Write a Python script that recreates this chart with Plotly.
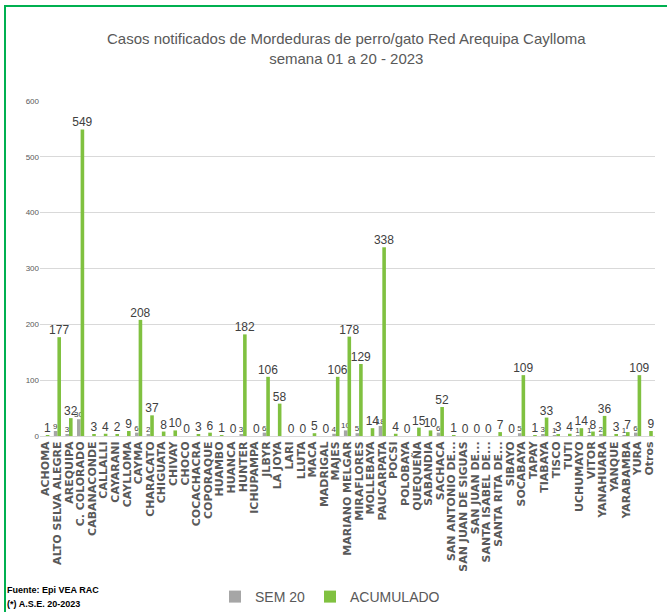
import plotly.graph_objects as go

categories = ["ACHOMA", "ALTO SELVA ALEGRE", "AREQUIPA", "C. COLORADO", "CABANACONDE",
              "CALLALLI", "CAYARANI", "CAYLLOMA", "CAYMA", "CHARACATO", "CHIGUATA",
              "CHIVAY", "CHOCO", "COCACHACRA", "COPORAQUE", "HUAMBO", "HUANCA", "HUNTER",
              "ICHUPAMPA", "JLBYR", "LA JOYA", "LARI", "LLUTA", "MACA", "MADRIGAL", "MAJES",
              "MARIANO MELGAR", "MIRAFLORES", "MOLLEBAYA", "PAUCARPATA", "POCSI", "POLOBAYA",
              "QUEQUEÑA", "SABANDIA", "SACHACA", "SAN ANTONIO DE...", "SAN JUAN DE SIGUAS",
              "SAN JUAN DE...", "SANTA ISABEL DE...", "SANTA RITA DE...", "SIBAYO", "SOCABAYA",
              "TAPAY", "TIABAYA", "TISCO", "TUTI", "UCHUMAYO", "VITOR", "YANAHUARA", "YANQUE",
              "YARABAMBA", "YURA", "Otros"]

sem20 = [None, 9, 3, 30, None, None, None, None, 6, 2, None, None, None, None, None, None,
         None, 3, None, 6, None, None, None, None, None, 4, 10, 5, None, 18, None, None,
         None, None, 6, None, None, None, None, None, None, 5, None, 3, 1, None, 1, 1, 2,
         None, 1, 6, None]

acumulado = [1, 177, 32, 549, 3, 4, 2, 9, 208, 37, 8, 10, 0, 3, 6, 1, 0, 182, 0, 106, 58,
             0, 0, 5, 0, 106, 178, 129, 14, 338, 4, 0, 15, 10, 52, 1, 0, 0, 0, 7, 0, 109, 1,
             33, 3, 4, 14, 8, 36, 3, 7, 109, 9]

title_text = "Casos notificados de Mordeduras de perro/gato Red Arequipa Caylloma<br>semana 01 a 20 - 2023"
y_ticks = [0, 100, 200, 300, 400, 500, 600]

NARROW = "Liberation Sans, Arial, sans-serif"

fig = go.Figure()
fig.add_trace(go.Bar(
    name="SEM 20", x=categories, y=sem20,
    text=["" if v is None else str(v) for v in sem20],
    textposition="outside", constraintext="none", cliponaxis=False,
    textfont=dict(size=8, color="#404040", family=NARROW),
    marker=dict(color="#a6a6a6", line=dict(width=0)),
))
fig.add_trace(go.Bar(
    name="ACUMULADO", x=categories, y=acumulado,
    text=[str(v) for v in acumulado],
    textposition="outside", constraintext="none", cliponaxis=False,
    textfont=dict(size=12, color="#404040", family=NARROW),
    marker=dict(color="#80c140", line=dict(width=0)),
))

W, H = 667, 612
L, R, T, B = 40, 12, 101, 176
pw = W - L - R
ph = H - T - B

def px_x(x):
    return (x - L) / pw

def px_y(y):
    return (H - B - y) / ph

fig.update_layout(
    width=W, height=H,
    margin=dict(l=L, r=R, t=T, b=B, autoexpand=False),
    paper_bgcolor="white", plot_bgcolor="white",
    barmode="group", bargap=0.38, bargroupgap=0,
    showlegend=True,
    legend=dict(orientation="h", x=px_x(330), xanchor="center", y=px_y(597), yanchor="middle",
                font=dict(size=14, color="#595959", family=NARROW),
                itemwidth=30, traceorder="normal"),
    xaxis=dict(tickangle=-90, tickmode="linear", dtick=1,
               tickfont=dict(size=11, color="#595959", family="DejaVu Sans", weight="bold"),
               showline=True, linecolor="#d9d9d9", linewidth=1, ticks="", showgrid=False,
               automargin=False),
    yaxis=dict(range=[0, 600], tickvals=y_ticks, showgrid=True, gridcolor="#d9d9d9",
               gridwidth=1, zeroline=False, showline=False,
               tickfont=dict(size=8, color="#595959", family=NARROW), ticklen=0,
               automargin=False),
    font=dict(family=NARROW),
    shapes=[dict(type="rect", xref="paper", yref="paper",
                 x0=px_x(5), x1=px_x(675), y0=px_y(625), y1=px_y(6),
                 line=dict(color="#00b050", width=2), fillcolor="rgba(0,0,0,0)", layer="below")],
    annotations=[
        dict(text=title_text, xref="paper", yref="paper", x=px_x(346), y=px_y(49),
             xanchor="center", yanchor="middle", showarrow=False, align="center",
             font=dict(size=15, color="#595959", family=NARROW)),
        dict(text="<b>Fuente: Epi VEA RAC</b>", xref="paper", yref="paper", x=px_x(5), y=px_y(590),
             xanchor="left", yanchor="middle", showarrow=False,
             font=dict(size=9, color="#000000", family=NARROW)),
        dict(text="<b>(*) A.S.E. 20-2023</b>", xref="paper", yref="paper", x=px_x(5), y=px_y(604),
             xanchor="left", yanchor="middle", showarrow=False,
             font=dict(size=9, color="#000000", family=NARROW)),
    ],
)

fig.write_html("out.html", config={"displayModeBar": False},
               post_script="document.body.style.margin='0';")
